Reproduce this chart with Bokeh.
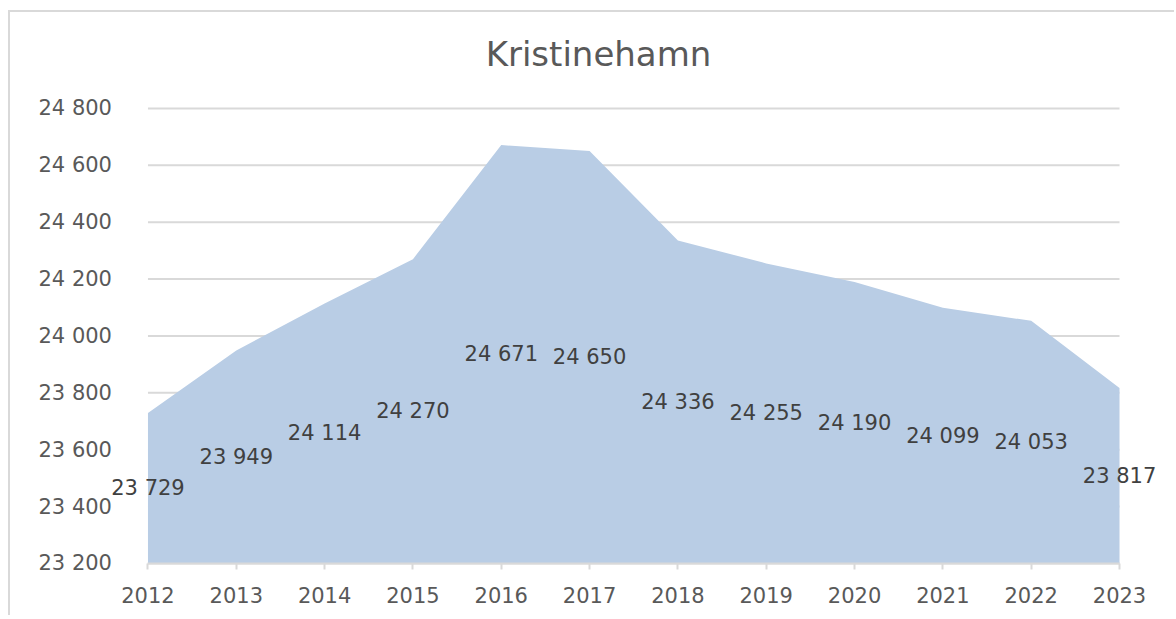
from bokeh.plotting import figure
from bokeh.models import ColumnDataSource, Range1d, FixedTicker, Label
from bokeh.embed import file_html
from bokeh.resources import INLINE

years = [2012, 2013, 2014, 2015, 2016, 2017, 2018, 2019, 2020, 2021, 2022, 2023]
population = [23729, 23949, 24114, 24270, 24671, 24650, 24336, 24255, 24190, 24099, 24053, 23817]
y_ticks = [23200, 23400, 23600, 23800, 24000, 24200, 24400, 24600, 24800]
y_tick_labels = ["23 200", "23 400", "23 600", "23 800", "24 000", "24 200", "24 400", "24 600", "24 800"]
title_text = "Kristinehamn"

y_min, y_max = y_ticks[0], y_ticks[-1]

def fmt(v):
    return f"{v:,}".replace(",", " ")

src = ColumnDataSource(dict(
    x=years,
    y=population,
    base=[y_min] * len(years),
))

FONT = "DejaVu Sans"
# extra room inside the frame so that axis labels and edge data labels are not clipped
PAD_LEFT = 1.33
PAD_RIGHT = 0.532
PAD_TOP = 63
PAD_BOTTOM = 183

p = figure(width=1166, height=605, output_backend="svg", toolbar_location=None,
           x_range=Range1d(years[0] - PAD_LEFT, years[-1] + PAD_RIGHT),
           y_range=Range1d(y_min - PAD_BOTTOM, y_max + PAD_TOP),
           min_border_left=20, min_border_right=10, min_border_top=78, min_border_bottom=2,
           title=title_text)
p.styles = {"margin-left": "8px", "margin-top": "10px",
            "border-left": "2px solid #d9d9d9", "border-top": "2px solid #d9d9d9"}

p.title.align = "center"
p.title.text_font = FONT
p.title.text_font_size = "34px"
p.title.text_font_style = "normal"
p.title.text_color = "#595959"
p.title.text_line_height = 0.6
p.title.standoff = 34

p.outline_line_color = None
p.background_fill_color = "white"
p.border_fill_color = "white"
p.xgrid.grid_line_color = None
p.ygrid.grid_line_color = None

# horizontal gridlines spanning the category extent only
p.segment(x0=[years[0]] * len(y_ticks), x1=[years[-1]] * len(y_ticks), y0=y_ticks, y1=y_ticks,
          line_color="#d9d9d9", line_width=2, level="underlay")

p.varea(x="x", y1="base", y2="y", source=src, fill_color="#b9cde5", fill_alpha=1.0)

# data labels, placed at the middle of each column of the area
for yr, v in zip(years, population):
    p.add_layout(Label(x=yr, y=(y_min + v) / 2, text=fmt(v), text_align="center",
                       text_baseline="middle", text_font=FONT, text_font_size="21px",
                       text_color="#404040"))

p.xaxis.fixed_location = y_min
p.xaxis.ticker = FixedTicker(ticks=years)
p.xaxis.bounds = (years[0], years[-1])
p.xaxis.axis_line_color = "#d9d9d9"
p.xaxis.axis_line_width = 2
p.xaxis.major_tick_line_color = "#d9d9d9"
p.xaxis.major_tick_line_width = 2
p.xaxis.major_tick_out = 6
p.xaxis.major_tick_in = 0
p.xaxis.minor_tick_line_color = None
p.xaxis.major_label_text_font = FONT
p.xaxis.major_label_text_font_size = "21px"
p.xaxis.major_label_text_color = "#595959"
p.xaxis.major_label_standoff = 18

p.yaxis.fixed_location = years[0]
p.yaxis.ticker = FixedTicker(ticks=y_ticks)
p.yaxis.major_label_overrides = {t: l for t, l in zip(y_ticks, y_tick_labels)}
p.yaxis.axis_line_color = None
p.yaxis.major_tick_line_color = None
p.yaxis.minor_tick_line_color = None
p.yaxis.major_label_text_font = FONT
p.yaxis.major_label_text_font_size = "21px"
p.yaxis.major_label_text_color = "#595959"
p.yaxis.major_label_standoff = 30

open("out.html", "w").write(file_html(p, INLINE))
